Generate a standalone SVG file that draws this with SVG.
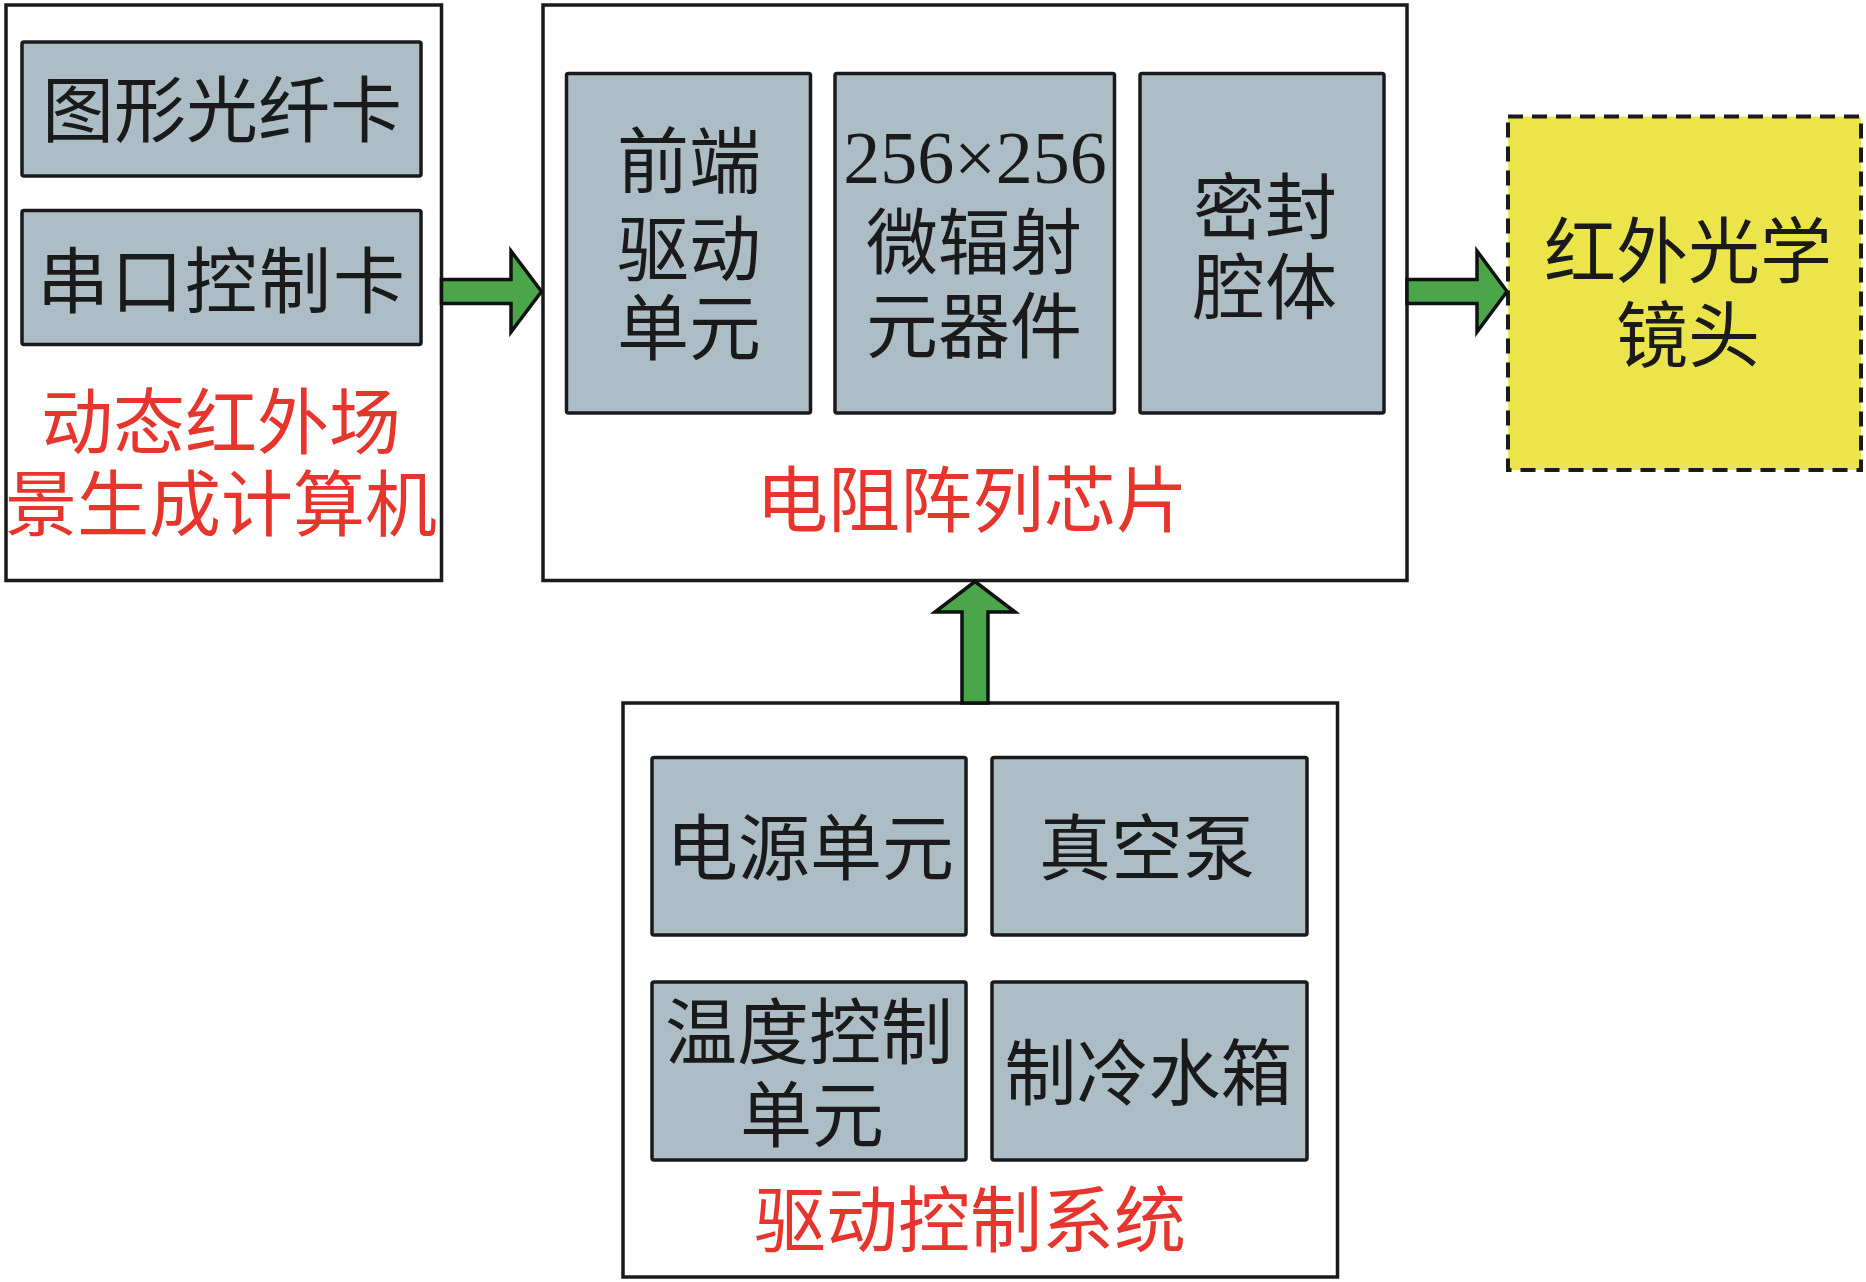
<svg xmlns="http://www.w3.org/2000/svg" width="1866" height="1282" viewBox="0 0 1866 1282">
<style>
.outer{fill:#ffffff;stroke:#1a1a1a;stroke-width:3.5}
.unit{fill:#adbdc6;stroke:#1a1a1a;stroke-width:3.5}
.lens{fill:#ebe54b;stroke:#1a1a1a;stroke-width:4;stroke-dasharray:15 9}
.arrow{fill:#4ba54b;stroke:#111111;stroke-width:3.5;stroke-linejoin:miter}
.t{font-family:"Noto Sans CJK SC","Liberation Serif",sans-serif;font-size:72px;fill:#1a1a1a;text-anchor:middle}
.num{font-family:"Liberation Serif",serif;font-size:74px;fill:#1a1a1a;text-anchor:middle}
.red{fill:#e5352c}
</style>
<rect x="0" y="0" width="1866" height="1282" fill="#ffffff"/>
<g id="computer">
<rect class="outer" x="6" y="5" width="435.5" height="575.5"/>
<g id="graphics-card">
<rect class="unit" x="22" y="42" width="399" height="134" rx="2"/>
<text class="t" x="222" y="136">图形光纤卡</text>
</g>
<g id="serial-card">
<rect class="unit" x="22" y="210.5" width="399" height="134" rx="2"/>
<text class="t" x="222" y="307" letter-spacing="2">串口控制卡</text>
</g>
<text class="t red" x="221" y="448">动态红外场</text>
<text class="t red" x="221" y="530">景生成计算机</text>
</g>
<g id="chip">
<rect class="outer" x="543" y="5" width="864" height="575.5"/>
<g id="front-driver">
<rect class="unit" x="566.5" y="73.5" width="244" height="339.5" rx="2"/>
<text class="t" x="689" y="187">前端</text>
<text class="t" x="689" y="275">驱动</text>
<text class="t" x="689" y="354">单元</text>
</g>
<g id="micro-emitter">
<rect class="unit" x="835" y="73.5" width="279.5" height="339.5" rx="2"/>
<text class="num" x="975" y="183">256×256</text>
<text class="t" x="974" y="268">微辐射</text>
<text class="t" x="974" y="352">元器件</text>
</g>
<g id="sealed-cavity">
<rect class="unit" x="1140" y="73.5" width="244" height="339.5" rx="2"/>
<text class="t" x="1265" y="233">密封</text>
<text class="t" x="1265" y="313">腔体</text>
</g>
<text class="t red" x="972" y="526">电阻阵列芯片</text>
</g>
<g id="ir-lens">
<rect class="lens" x="1508" y="116.5" width="353" height="353.5"/>
<text class="t" x="1688" y="277">红外光学</text>
<text class="t" x="1688" y="361">镜头</text>
</g>
<g id="drive-control">
<rect class="outer" x="623" y="703" width="714.5" height="574"/>
<g id="power-unit">
<rect class="unit" x="652" y="757.5" width="314" height="177.5" rx="2"/>
<text class="t" x="810" y="874">电源单元</text>
</g>
<g id="vacuum-pump">
<rect class="unit" x="992" y="757.5" width="315" height="177.5" rx="2"/>
<text class="t" x="1147" y="874">真空泵</text>
</g>
<g id="temp-control">
<rect class="unit" x="652" y="982" width="314" height="178" rx="2"/>
<text class="t" x="809" y="1058">温度控制</text>
<text class="t" x="812" y="1141">单元</text>
</g>
<g id="water-tank">
<rect class="unit" x="992" y="982" width="315" height="178" rx="2"/>
<text class="t" x="1148.5" y="1099">制冷水箱</text>
</g>
<text class="t red" x="970" y="1246">驱动控制系统</text>
</g>
<g id="connectors">
<polygon class="arrow" points="441.5,279.5 511,279.5 511,251 541.5,291.5 511,332 511,303.5 441.5,303.5"/>
<polygon class="arrow" points="1407,279.5 1477,279.5 1477,251 1507,291.5 1477,332 1477,303.5 1407,303.5"/>
<polygon class="arrow" points="962,703 962,612 935,612 975,581.5 1015,612 988,612 988,703"/>
</g>
</svg>
